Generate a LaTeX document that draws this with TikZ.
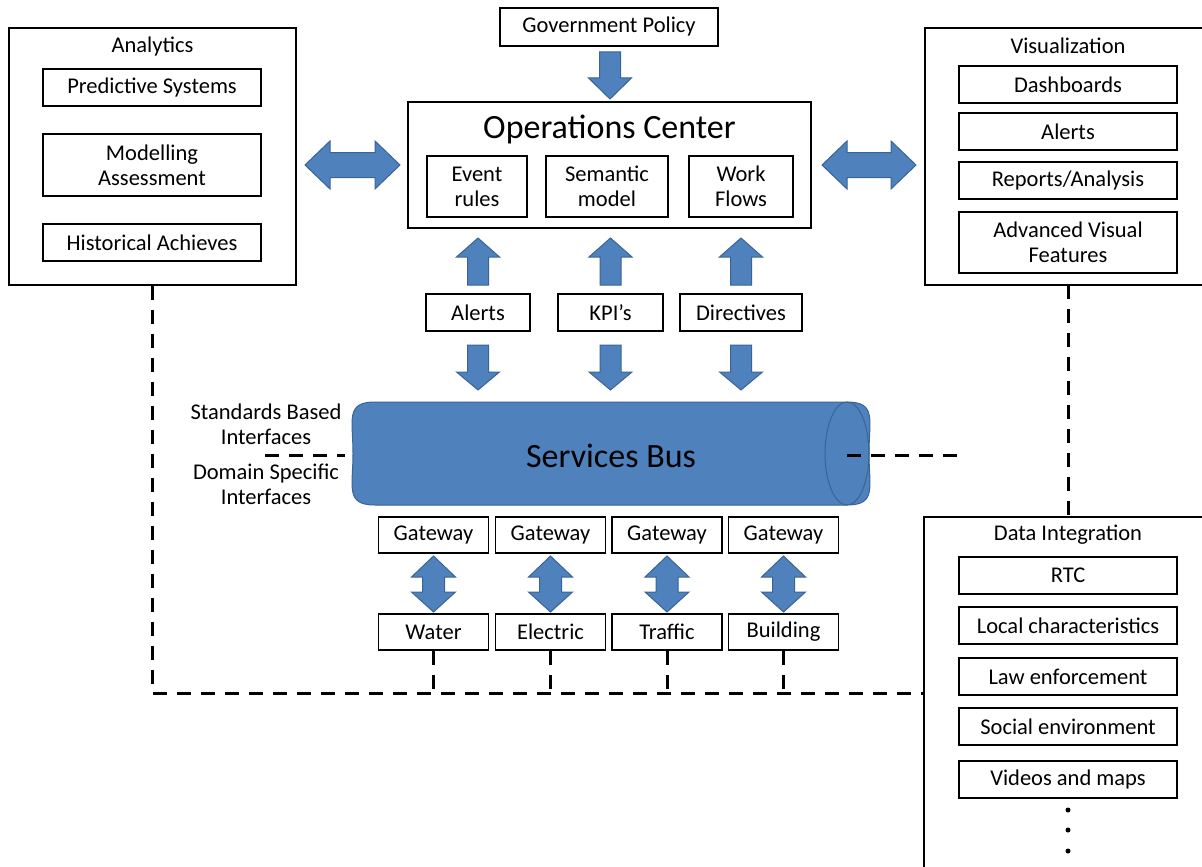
\documentclass[tikz,border=0pt]{standalone}
\usepackage{fontspec}
\setmainfont{Carlito}
\definecolor{blkfill}{HTML}{4F81BD}
\definecolor{blkline}{HTML}{3A6496}
\newcommand\fs{\fontsize{22.5}{25}\selectfont}
\newcommand\fb{\fontsize{34}{40}\selectfont}
% vertical single block arrow: x, base y, head y, tip y
\newcommand\vsarrow[4]{\draw[blockarrow] (#1-10.5,#2) -- (#1+10.5,#2) -- (#1+10.5,#3) -- (#1+21.5,#3) -- (#1,#4) -- (#1-21.5,#3) -- (#1-10.5,#3) -- cycle;}
% vertical double block arrow: x, tip1, head1, head2, tip2
\newcommand\vdarrow[5]{\draw[blockarrow] (#1,#2) -- (#1+22,#3) -- (#1+11,#3) -- (#1+11,#4) -- (#1+22,#4) -- (#1,#5) -- (#1-22,#4) -- (#1-11,#4) -- (#1-11,#3) -- (#1-22,#3) -- cycle;}
% horizontal double block arrow: y, tip1, head1, head2, tip2
\newcommand\hdarrow[5]{\draw[blockarrow] (#2,#1) -- (#3,#1-24) -- (#3,#1-12.5) -- (#4,#1-12.5) -- (#4,#1-24) -- (#5,#1) -- (#4,#1+24) -- (#4,#1+12.5) -- (#3,#1+12.5) -- (#3,#1+24) -- cycle;}
\begin{document}
\begin{tikzpicture}[x=1pt,y=-1pt,
  box/.style={draw=black, line width=1.6pt, inner sep=0pt, align=center, font=\fs, text=black},
  plain/.style={inner sep=0pt, align=center, font=\fs, text=black},
  blockarrow/.style={fill=blkfill, draw=blkline, line width=1pt, line join=miter},
  dline/.style={draw=black, line width=3pt, dash pattern=on 14pt off 10pt},
  frame/.style={draw=black, line width=1.6pt}]
\useasboundingbox (0,0) rectangle (1202,867);
\fill[white] (0,0) rectangle (1202,867);

% Analytics
\node[box, minimum width=287, minimum height=257] (analytics) at (152.5,156.5) {};
\node[plain] (antitle) at (152.5,47) {Analytics};
\node[box, minimum width=218, minimum height=37] (pred) at (152,87.5) {Predictive Systems};
\node[box, minimum width=218, minimum height=62] (model) at (152,165) {Modelling\\Assessment};
\node[box, minimum width=218, minimum height=37] (hist) at (152,242.5) {Historical Achieves};

% Government policy and operations center
\node[box, minimum width=218, minimum height=38] (gov) at (609,27) {\raisebox{-2pt}{Government Policy}};
\node[box, minimum width=403, minimum height=126] (ops) at (609.5,165) {};
\node[plain, font=\fb] (opstitle) at (609.5,129) {Operations Center};
\node[box, minimum width=100, minimum height=61] (event) at (477,186.5) {Event\\rules};
\node[box, minimum width=122, minimum height=61] (sem) at (607,186.5) {Semantic\\model};
\node[box, minimum width=104, minimum height=61] (work) at (741,186.5) {Work\\Flows};

% Visualization (open to the right)
\draw[frame] (1204,28) -- (925,28) -- (925,285) -- (1204,285);
\node[plain] (vistitle) at (1068,46) {Visualization};
\node[box, minimum width=218, minimum height=37] (dash) at (1068,84.5) {Dashboards};
\node[box, minimum width=218, minimum height=37] (valerts) at (1068,131.5) {Alerts};
\node[box, minimum width=218, minimum height=37] (reports) at (1068,180.5) {Reports/Analysis};
\node[box, minimum width=218, minimum height=61] (adv) at (1068,242.5) {Advanced Visual\\Features};

% block arrows top
\vsarrow{610}{52}{78}{99}
\hdarrow{165}{305}{330}{375}{400}
\hdarrow{165}{822}{847}{891}{916}

% middle row
\node[box, minimum width=104, minimum height=37] (alerts) at (478,312.5) {Alerts};
\node[box, minimum width=105, minimum height=37] (kpi) at (610.5,312.5) {KPI’s};
\node[box, minimum width=122, minimum height=37] (dir) at (741,312.5) {Directives};
\vsarrow{478}{285}{257}{238}
\vsarrow{610.5}{285}{257}{238}
\vsarrow{741}{285}{257}{238}
\vsarrow{478}{345}{372}{390}
\vsarrow{610.5}{345}{372}{390}
\vsarrow{741}{345}{372}{390}

% services bus
\path[fill=blkfill, draw=blkline, line width=1pt]
  (375,402) .. controls (345,402) and (353,420) .. (353,453.5)
  .. controls (353,487) and (345,505) .. (375,505)
  -- (847,505) .. controls (877,505) and (869,487) .. (869,453.5)
  .. controls (869,420) and (877,402) .. (847,402) -- cycle;
\draw[blkline, line width=1pt] (847,453.5) ellipse [x radius=22, y radius=51.5];
\node[plain, font=\fb] (bus) at (611,456) {Services Bus};
\coordinate (busleft) at (345,455);
\coordinate (busright) at (847,455);

\node[plain] (std) at (266,424) {Standards Based\\Interfaces};
\node[plain] (dom) at (266,484) {Domain Specific\\Interfaces};
\coordinate (ifl) at (265,455);
\coordinate (ifr) at (960,455);

% gateways and domains
\foreach \n/\x/\t in {w/433.5/Water, e/550.5/Electric, t/667/Traffic, b/783.5/Building}{
  \node[box, minimum width=110, minimum height=36] (gw\n) at (\x,535) {Gateway};
  \node[box, minimum width=110, minimum height=36] (d\n) at (\x,632) {\t};
  \vdarrow{\x}{556}{577}{592}{612}
}

% Data integration (open right and bottom)
\draw[frame] (1204,517) -- (924,517) -- (924,870);
\node[plain] (dititle) at (1068,535) {Data Integration};
\node[box, minimum width=218, minimum height=37] (rtc) at (1068,575.5) {RTC};
\node[box, minimum width=218, minimum height=37] (local) at (1068,625.5) {Local characteristics};
\node[box, minimum width=218, minimum height=37] (law) at (1068,676.5) {Law enforcement};
\node[box, minimum width=218, minimum height=37] (social) at (1068,726.5) {Social environment};
\node[box, minimum width=218, minimum height=37] (video) at (1068,779.5) {Videos and maps};
\foreach \y in {810,830,851} \fill[black] (1068,\y) circle (2.5);

% dashed connectors
\coordinate (corner) at (152,693);
\coordinate (diL) at (924,693);
\draw[dline] (analytics.south -| corner) -- (corner) -- (diL);
\foreach \n in {w,e,t,b} \draw[dline] (d\n.south) -- (d\n.south |- corner);
\draw[dline] (vistitle |- 0,285) -- (vistitle |- 0,517);
\draw[dline] (ifl) -- (busleft);
\draw[dline] (busright) -- (ifr);
\end{tikzpicture}
\end{document}
